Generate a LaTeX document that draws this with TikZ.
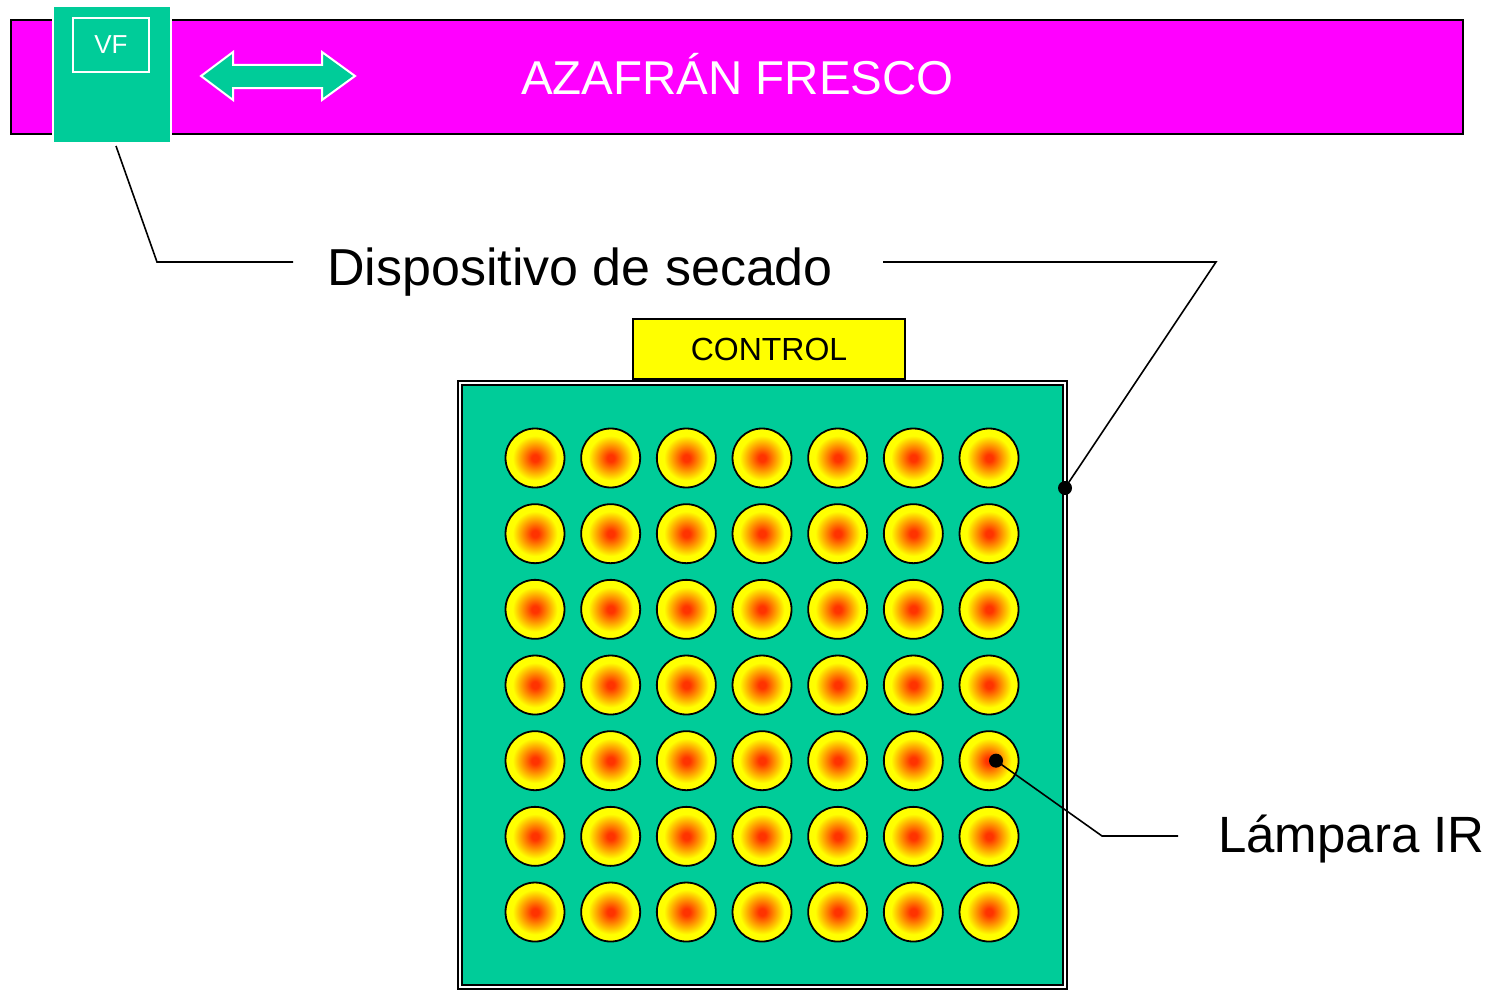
\documentclass[tikz,border=0pt]{standalone}
\usepackage{fontspec}
\setmainfont{Liberation Sans}
\usepackage{tikz}
\usetikzlibrary{shapes,arrows}
\definecolor{secgreen}{RGB}{0,204,153}
\definecolor{bandpink}{RGB}{255,0,255}
\definecolor{lampyellow}{RGB}{255,255,0}
\definecolor{lampcore}{RGB}{255,51,0}
\definecolor{lampmid}{RGB}{255,140,0}
\pgfdeclareradialshading{lampglow}{\pgfpoint{0bp}{0bp}}{color(0bp)=(lampcore); color(3bp)=(lampcore); color(10bp)=(lampmid); color(19bp)=(lampyellow); color(50bp)=(lampyellow)}
\tikzstyle{band} = [rectangle, draw, fill=bandpink, line width=2pt, minimum width=1452, minimum height=114, inner sep=0]
\tikzstyle{bandtext} = [text=white, inner sep=0, font=\fontsize{47.5}{56}\selectfont]
\tikzstyle{vfbox} = [rectangle, draw=white, fill=secgreen, line width=2pt, minimum width=118, minimum height=137, inner sep=0]
\tikzstyle{vftag} = [rectangle, draw=white, text=white, line width=2pt, minimum width=76, minimum height=54, inner sep=0, font=\fontsize{26}{30}\selectfont]
\tikzstyle{move} = [fill=secgreen, draw=white, line width=2pt, line join=miter]
\tikzstyle{dryer} = [rectangle, draw=black, fill=secgreen, line width=2pt, double=white, double distance=2pt, minimum width=604.5, minimum height=604, inner sep=0]
\tikzstyle{controlbox} = [rectangle, draw, fill=lampyellow, line width=1.5pt, minimum width=272, minimum height=60, inner sep=0, font=\fontsize{32}{38}\selectfont]
\tikzstyle{lamp} = [circle, draw, line width=1.8pt, shade, shading=lampglow, minimum size=59, inner sep=0]
\tikzstyle{note} = [inner sep=0, font=\fontsize{52}{60}\selectfont]
\tikzstyle{dot} = [circle, fill=black, minimum size=14, inner sep=0]
\tikzstyle{leader} = [draw, line width=1.6pt]
\begin{document}
\begin{tikzpicture}[x=1pt, y=-1pt]
	\useasboundingbox (0,0) rectangle (1496,990);
	% feeding band with the fresh saffron
	\node [band] (band) at (737,77) {};
	\node [bandtext, anchor=base] (fresh) at (737.5,95) {AZAFRÁN FRESCO};
	\node [vfbox] (vf) at (112,74.5) {};
	\node [vftag] (vftag) at (111,45) {VF};
	\path [move] (201,76) -- (233,52) -- (233,65) -- (322,65) -- (322,52) -- (355,76)
		-- (322,100) -- (322,88) -- (233,88) -- (233,100) -- cycle;
	% drying device
	\node [dryer] (dryer) at (762.5,684.5) {};
	\node [controlbox] (control) at (769,349) {CONTROL};
	\foreach \i in {0,...,6}
		\foreach \j in {0,...,6}
			\node [lamp] (lamp-\i-\j) at (535+75.67*\i, 458+75.67*\j) {};
	% callouts
	\node [note, anchor=base] (devlabel) at (580,285) {Dispositivo de secado};
	\node [note, anchor=base west, font=\fontsize{51}{60}\selectfont] (lamplabel) at (1218,852) {Lámpara IR};
	\node [dot] (edge) at (1065,488) {};
	\node [dot] (spot) at ([xshift=7pt]lamp-6-4.center) {};
	\coordinate (k1) at (157,262);
	\coordinate (k2) at (293,262);
	\coordinate (k3) at (883,262);
	\coordinate (k4) at (1216,262);
	\coordinate (k5) at (1102,836);
	\coordinate (k6) at (1178,836);
	\path [leader] ([xshift=4pt,yshift=-2pt]vf.south) -- (k1) -- (k2);
	\path [leader] (k3) -- (k4) -- (edge.center);
	\path [leader] (spot.center) -- (k5) -- (k6);
\end{tikzpicture}
\end{document}
